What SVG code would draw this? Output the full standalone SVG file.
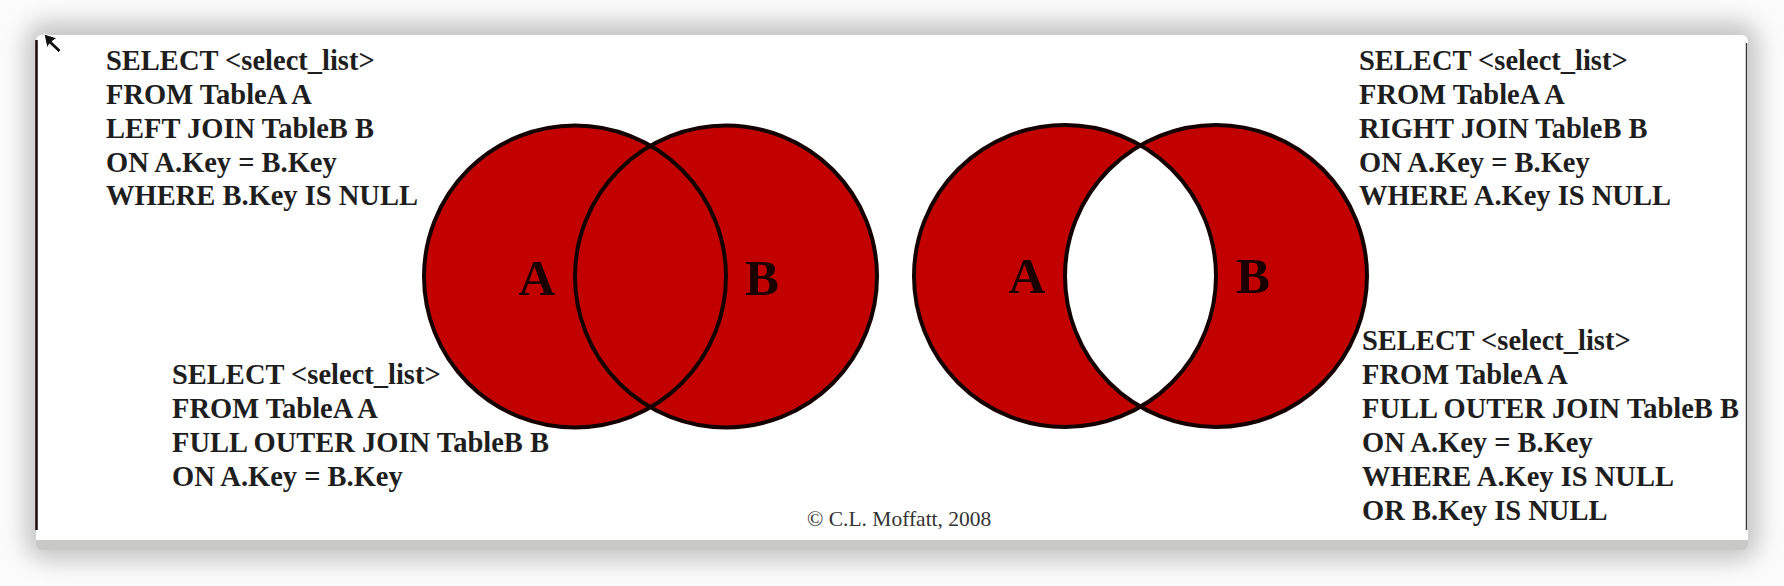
<svg xmlns="http://www.w3.org/2000/svg" width="1784" height="586" viewBox="0 0 1784 586">
  <style>
    .sql { font-family: "Liberation Serif", "Times New Roman", serif; font-weight: bold; font-size: 28.5px; fill: #1e1e1e; }
    .lbl { font-family: "Liberation Serif", "Times New Roman", serif; font-weight: bold; font-size: 51px; fill: #1a0000; text-anchor: middle; }
    .copy { font-family: "Liberation Serif", "Times New Roman", serif; font-size: 21.5px; fill: #333333; }
    .fillred { fill: #c20000; }
    .ring { fill: none; stroke: #140000; stroke-width: 4; }
  </style>
  <defs>
    <filter id="shadow" x="-5%" y="-20%" width="110%" height="140%">
      <feGaussianBlur stdDeviation="12"/>
    </filter>
    <clipPath id="clipA2">
      <circle cx="1065" cy="276" r="151"/>
    </clipPath>
  </defs>

  <!-- background and panel -->
  <rect x="0" y="0" width="1784" height="586" fill="#fcfcfc"/>
  <rect x="26" y="22" width="1732" height="538" rx="20" fill="#c2c2c2" filter="url(#shadow)"/>
  <path d="M36,535 H1748 V543 Q1748,550 1741,550 H43 Q36,550 36,543 Z" fill="#c8c9c6"/>
  <path d="M36,41 Q36,35 42,35 H1741 Q1748,35 1748,42 V540 H36 Z" fill="#fefefe"/>
  <line x1="36.5" y1="40" x2="36.5" y2="530" stroke="#1a0808" stroke-width="2.5"/>
  <line x1="1746.5" y1="43" x2="1746.5" y2="530" stroke="#3a3a3a" stroke-width="1.5"/>

  <!-- mouse cursor -->
  <path d="M44,34 L57,38 L52,41.5 L61,50 L58.5,52.5 L49.5,44 L47,48 Z" fill="#111111" stroke="#ffffff" stroke-width="1"/>

  <!-- left Venn: full outer join -->
  <g id="venn-full">
    <circle class="fillred" cx="575" cy="276.5" r="151"/>
    <circle class="fillred" cx="726" cy="276.5" r="151"/>
    <circle class="ring" cx="575" cy="276.5" r="151"/>
    <circle class="ring" cx="726" cy="276.5" r="151"/>
    <text class="lbl" x="537" y="295">A</text>
    <text class="lbl" x="762" y="295">B</text>
  </g>

  <!-- right Venn: full outer join excluding intersection -->
  <g id="venn-excl">
    <circle class="fillred" cx="1065" cy="276" r="151"/>
    <circle class="fillred" cx="1216" cy="276" r="151"/>
    <circle cx="1216" cy="276" r="151" fill="#ffffff" clip-path="url(#clipA2)"/>
    <circle class="ring" cx="1065" cy="276" r="151"/>
    <circle class="ring" cx="1216" cy="276" r="151"/>
    <text class="lbl" x="1027" y="293">A</text>
    <text class="lbl" x="1253" y="293">B</text>
  </g>

  <!-- SQL text blocks -->
  <g id="sql-left-join">
    <text class="sql" x="106" y="70">SELECT &lt;select_list&gt;</text>
    <text class="sql" x="106" y="103.8">FROM TableA A</text>
    <text class="sql" x="106" y="137.8">LEFT JOIN TableB B</text>
    <text class="sql" x="106" y="171.6">ON A.Key = B.Key</text>
    <text class="sql" x="106" y="205.2">WHERE B.Key IS NULL</text>
  </g>

  <g id="sql-right-join">
    <text class="sql" x="1359" y="70">SELECT &lt;select_list&gt;</text>
    <text class="sql" x="1359" y="103.8">FROM TableA A</text>
    <text class="sql" x="1359" y="137.8">RIGHT JOIN TableB B</text>
    <text class="sql" x="1359" y="171.6">ON A.Key = B.Key</text>
    <text class="sql" x="1359" y="205.2">WHERE A.Key IS NULL</text>
  </g>

  <g id="sql-full-outer">
    <text class="sql" x="172" y="383.5">SELECT &lt;select_list&gt;</text>
    <text class="sql" x="172" y="417.5">FROM TableA A</text>
    <text class="sql" x="172" y="451.7">FULL OUTER JOIN TableB B</text>
    <text class="sql" x="172" y="485.8">ON A.Key = B.Key</text>
  </g>

  <g id="sql-full-outer-null">
    <text class="sql" x="1362" y="350">SELECT &lt;select_list&gt;</text>
    <text class="sql" x="1362" y="383.5">FROM TableA A</text>
    <text class="sql" x="1362" y="418">FULL OUTER JOIN TableB B</text>
    <text class="sql" x="1362" y="452">ON A.Key = B.Key</text>
    <text class="sql" x="1362" y="486">WHERE A.Key IS NULL</text>
    <text class="sql" x="1362" y="520">OR B.Key IS NULL</text>
  </g>

  <text id="copyright" class="copy" x="807" y="526">© C.L. Moffatt, 2008</text>
</svg>
